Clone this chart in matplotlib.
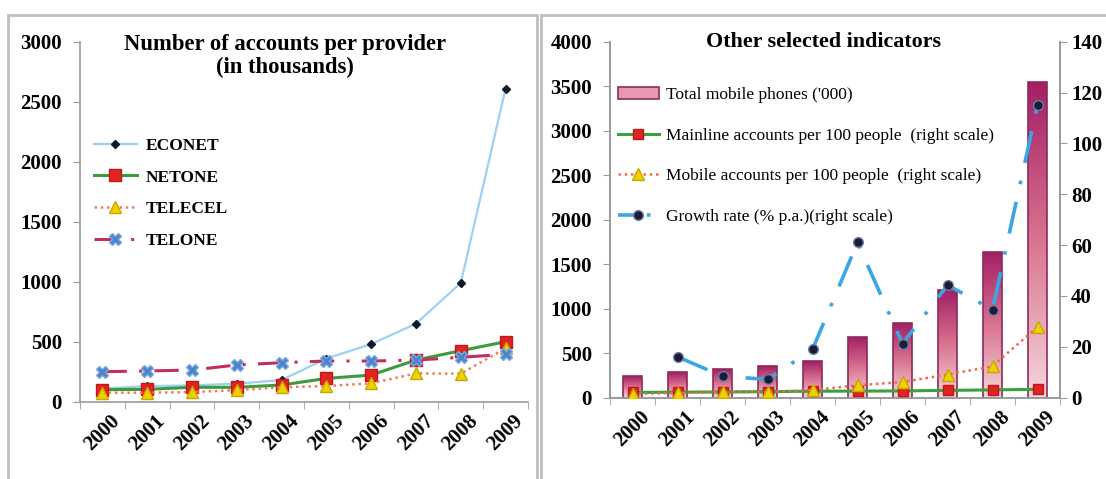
import numpy as np
import matplotlib
matplotlib.use('Agg')
import matplotlib.pyplot as plt
from matplotlib.colors import LinearSegmentedColormap
from matplotlib.patches import Rectangle, Patch
from matplotlib.lines import Line2D

plt.rcParams['font.family'] = ['Liberation Serif', 'DejaVu Serif']

# ---------------- data ----------------
years = ['2000', '2001', '2002', '2003', '2004', '2005', '2006', '2007', '2008', '2009']

econet = [110, 130, 136, 150, 180, 360, 480, 650, 990, 2610]
netone = [100, 103, 120, 120, 139, 194, 222, 347, 425, 500]
telecel = [75, 75, 80, 97, 120, 131, 153, 236, 234, 445]
telone = [250, 256, 264, 306, 325, 339, 339, 347, 370, 395]

total_mobile = [240, 288, 326, 352, 411, 681, 843, 1208, 1639, 3550]
mainline_per100 = [2.0, 2.1, 2.2, 2.3, 2.5, 2.5, 2.6, 2.8, 3.0, 3.2]
mobile_per100 = [1.4, 1.8, 2.0, 2.2, 2.9, 4.8, 6.1, 9.0, 12.3, 27.8]
growth_rate = [np.nan, 16.0, 8.4, 7.1, 18.9, 61.0, 21.2, 44.2, 34.6, 115.0]

# ---------------- figure ----------------
W, H = 1106, 479
fig = plt.figure(figsize=(W / 100, H / 100), dpi=100)


def fx(px):
    return px / W


def fy(py):
    return 1 - py / H


# panel frames
for (x0, x1) in [(8, 537), (541, 1115)]:
    fig.patches.append(Rectangle((fx(x0), fy(495)), fx(x1) - fx(x0), fy(15) - fy(495),
                                 transform=fig.transFigure, fill=False,
                                 edgecolor='#BEBEBE', lw=2))

spine_col = '#9A9A9A'
tick_font = dict(fontsize=15, fontweight='bold')


def style_x(ax):
    x = np.arange(len(years))
    ax.set_xlim(-0.5, len(years) - 0.5)
    ax.set_xticks(x)
    ax.set_xticklabels(years, rotation=45, ha='center', va='top', **tick_font)
    ax.tick_params(axis='x', which='major', length=0, pad=7)
    ax.set_xticks(np.arange(-0.5, len(years)), minor=True)
    ax.tick_params(axis='x', which='minor', length=5, direction='out', color=spine_col)


# ---------------- left chart ----------------
ax1 = fig.add_axes([fx(80), fy(401.7), fx(528) - fx(80), fy(41.7) - fy(401.7)])
x = np.arange(len(years))
ax1.plot(x, econet, color='#9DD0F3', lw=1.6, marker='D', ms=4.5,
         mfc='#101828', mec='#101828', label='ECONET')
ax1.plot(x, netone, color='#3C9C3C', lw=2.2, marker='s', ms=8,
         mfc='#E02424', mec='#C01818', label='NETONE')
ax1.plot(x, telecel, color='#F27A5A', lw=1.8, ls=(0, (1, 1.5)), marker='^', ms=9,
         mfc='#EDD100', mec='#C8A800', label='TELECEL')
ax1.plot(x, telone, color='#C0305E', lw=2.2, ls=(0, (8, 4, 1, 4)), marker='X', ms=8,
         mfc='#4C84CC', mec='#7AA8E0', label='TELONE')

ax1.set_ylim(0, 3000)
ax1.set_yticks(np.arange(0, 3001, 500))
ax1.set_yticklabels([str(v) for v in range(0, 3001, 500)], **tick_font)
ax1.tick_params(axis='y', length=5, direction='out', color=spine_col, pad=8)
style_x(ax1)
for s in ['top', 'right']:
    ax1.spines[s].set_visible(False)
for s in ['left', 'bottom']:
    ax1.spines[s].set_color(spine_col)
    ax1.spines[s].set_linewidth(1.2)

fig.text(fx(285), fy(56), 'Number of accounts per provider\n(in thousands)',
         ha='center', va='center', fontsize=16.3, fontweight='bold', linespacing=1.1)

ax1.legend(loc='upper left', bbox_to_anchor=(fx(78), fy(122)), bbox_transform=fig.transFigure,
           frameon=False, handlelength=2.5, handletextpad=0.5, labelspacing=0.9,
           prop=dict(size=12.5, weight='bold'))

# ---------------- right chart ----------------
ax2 = fig.add_axes([fx(610), fy(397.5), fx(1060) - fx(610), fy(41.7) - fy(397.5)])
ax3 = ax2.twinx()

cmap = LinearSegmentedColormap.from_list('pinkgrad', ['#F5D6DC', '#D9738F', '#A21F66'])
bars = ax2.bar(x, total_mobile, width=0.42, color='none', edgecolor='#8E2A5C', lw=1.2, zorder=2)
grad = np.linspace(0, 1, 256).reshape(-1, 1)
for b in bars:
    bx, by = b.get_x(), b.get_y()
    bw, bh = b.get_width(), b.get_height()
    im = ax2.imshow(grad, cmap=cmap, origin='lower', aspect='auto',
                    extent=(bx, bx + bw, by, by + bh), zorder=1)
    im.set_clip_path(b)

ax2.set_ylim(0, 4000)
ax2.set_yticks(np.arange(0, 4001, 500))
ax2.set_yticklabels([str(v) for v in range(0, 4001, 500)], **tick_font)
ax2.tick_params(axis='y', length=5, direction='out', color=spine_col, pad=8)
style_x(ax2)

ax3.plot(x, mainline_per100, color='#3CA03C', lw=2.2, marker='s', ms=7,
         mfc='#E02424', mec='#C01818', zorder=3)
ax3.plot(x, mobile_per100, color='#F06A44', lw=1.8, ls=(0, (1, 1.5)), marker='^', ms=9,
         mfc='#EDD100', mec='#C8A800', zorder=4)
ax3.plot(x, growth_rate, color='#3AA6E6', lw=2.6, ls=(0, (9, 5, 1, 5)), marker='o', ms=7,
         mfc='#1C1C36', mec='#6A7FA8', zorder=5)
ax3.set_ylim(0, 140)
ax3.set_yticks(np.arange(0, 141, 20))
ax3.set_yticklabels([str(v) for v in range(0, 141, 20)], **tick_font)
ax3.tick_params(axis='y', length=5, direction='out', color=spine_col, pad=3)
ax3.set_xlim(-0.5, len(years) - 0.5)

for a in (ax2, ax3):
    a.spines['top'].set_visible(False)
    for s in ['left', 'right', 'bottom']:
        a.spines[s].set_color(spine_col)
        a.spines[s].set_linewidth(1.2)

fig.text(fx(823), fy(42), 'Other selected indicators', ha='center', va='center',
         fontsize=15.8, fontweight='bold')

handles = [
    Patch(facecolor='#E59AB2', edgecolor='#8E2A5C', lw=1.2),
    Line2D([], [], color='#3CA03C', lw=2.2, marker='s', ms=7, mfc='#E02424', mec='#C01818'),
    Line2D([], [], color='#F06A44', lw=1.8, ls=(0, (1, 1.5)), marker='^', ms=9,
           mfc='#EDD100', mec='#C8A800'),
    Line2D([], [], color='#3AA6E6', lw=2.6, ls=(0, (5, 3, 1, 3)), marker='o', ms=7,
           mfc='#1C1C36', mec='#6A7FA8'),
]
labels = ["Total mobile phones ('000)",
          'Mainline accounts per 100 people  (right scale)',
          'Mobile accounts per 100 people  (right scale)',
          'Growth rate (% p.a.)(right scale)']
ax3.legend(handles, labels, loc='upper left', bbox_to_anchor=(fx(602), fy(71)),
           bbox_transform=fig.transFigure, frameon=False, handlelength=2.4,
           handletextpad=0.4, labelspacing=1.42, prop=dict(size=12.5))

fig.savefig('out.png', dpi=100)
